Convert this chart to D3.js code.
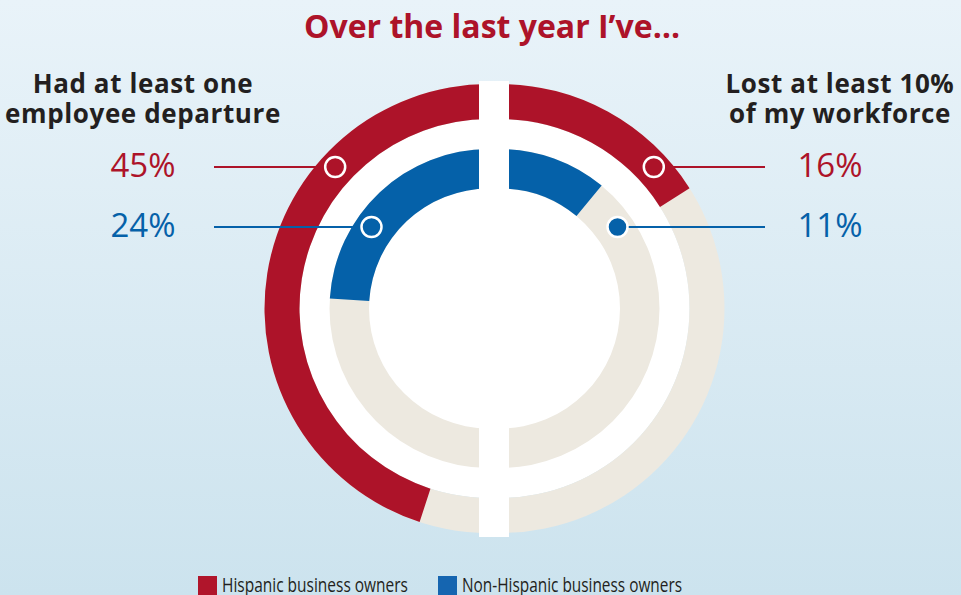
<!DOCTYPE html>
<html>
<head>
<meta charset="utf-8">
<script src="https://d3js.org/d3.v7.min.js"></script>
<style>
  html, body { margin: 0; padding: 0; overflow: hidden; }
  svg { display: block; font-family: "Open Sans", "Noto Sans", sans-serif; }
</style>
</head>
<body>
<script>
// data
const title = "Over the last year I\u2019ve\u2026";
const questions = [["Had at least one", "employee departure"], ["Lost at least 10%", "of my workforce"]];
const seriesNames = ["Hispanic business owners", "Non-Hispanic business owners"];
const hispanic = [45, 16];
const nonHispanic = [24, 11];

const width = 961, height = 595;
const red = "#ad1329", blue = "#0561a9", beige = "#ede9e0", dark = "#231f20";

const svg = d3.select("body").append("svg")
  .attr("width", width)
  .attr("height", height);

// background gradient
const grad = svg.append("defs").append("linearGradient")
  .attr("id", "bg").attr("x1", 0).attr("y1", 0).attr("x2", 0).attr("y2", 1);
grad.append("stop").attr("offset", "0%").attr("stop-color", "#e9f3f9");
grad.append("stop").attr("offset", "100%").attr("stop-color", "#cce3ee");
svg.append("rect").attr("width", width).attr("height", height).attr("fill", "url(#bg)");

// title
svg.append("text")
  .attr("x", 492).attr("y", 38)
  .attr("text-anchor", "middle")
  .style("font-size", "32px")
  .style("font-weight", "bold")
  .style("fill", red)
  .text(title);

const cy = 308.5;
const centers = [489, 500];           // left half, right half
const rings = [
  {inner: 189.5, outer: 224.5, values: hispanic, color: red},
  {inner: 120, outer: 159.5, values: nonHispanic, color: blue}
];
const angle = d3.scaleLinear().domain([0, 100]).range([0, 2 * Math.PI]);
const arc = d3.arc();

centers.forEach((cx, i) => {
  const g = svg.append("g").attr("transform", `translate(${cx},${cy})`);
  const dir = i === 0 ? -1 : 1;
  const span = (a0, a1) => dir < 0 ? {startAngle: -a1, endAngle: -a0} : {startAngle: a0, endAngle: a1};

  // white half disc
  g.append("path")
    .attr("d", arc({innerRadius: 0, outerRadius: rings[0].inner, ...span(0, Math.PI)}))
    .attr("fill", "#fff");

  rings.forEach(r => {
    g.append("path")
      .attr("d", arc({innerRadius: r.inner, outerRadius: r.outer, ...span(0, Math.PI)}))
      .attr("fill", beige);
    g.append("path")
      .attr("d", arc({innerRadius: r.inner, outerRadius: r.outer, ...span(0, angle(r.values[i]))}))
      .attr("fill", r.color);
  });
});

// white gap between the halves
svg.append("rect")
  .attr("x", 479).attr("y", 81)
  .attr("width", 30).attr("height", 456)
  .attr("fill", "#fff");

// question headings
const headX = [143, 840];
questions.forEach((q, i) => {
  q.forEach((line, j) => {
    svg.append("text")
      .attr("x", headX[i]).attr("y", 93 + j * 30)
      .attr("text-anchor", "middle")
      .style("font-size", "26px")
      .style("font-weight", "bold")
      .style("letter-spacing", "0.6px")
      .style("fill", dark)
      .text(line);
  });
});

// value labels, leaders, markers
const labelY = [167, 227];
const labelX = [143, 830];
const lineEnd = [214, 765];
const markerR = [209, 143];
rings.forEach((r, k) => {
  r.values.forEach((v, i) => {
    const cx = centers[i];
    const dir = i === 0 ? -1 : 1;
    const y = labelY[k];
    const mx = cx + dir * Math.sqrt(markerR[k] ** 2 - (y - cy) ** 2);
    svg.append("line")
      .attr("x1", lineEnd[i]).attr("x2", mx)
      .attr("y1", y).attr("y2", y)
      .attr("stroke", r.color).attr("stroke-width", 2);
    svg.append("circle")
      .attr("cx", mx).attr("cy", y).attr("r", 10)
      .attr("fill", r.color)
      .attr("stroke", "#fff").attr("stroke-width", 2.5);
    svg.append("text")
      .attr("x", labelX[i]).attr("y", y + 10)
      .attr("text-anchor", "middle")
      .style("font-size", "33px")
      .style("fill", r.color)
      .text(v + "%");
  });
});

// legend
const legX = [198, 438];
const legW = [186, 220];
seriesNames.forEach((s, i) => {
  svg.append("rect")
    .attr("x", legX[i]).attr("y", 576)
    .attr("width", 19).attr("height", 22)
    .attr("fill", i === 0 ? "#b0152b" : "#1565b0");
  svg.append("text")
    .attr("x", legX[i] + 24).attr("y", 592)
    .attr("textLength", legW[i])
    .attr("lengthAdjust", "spacingAndGlyphs")
    .style("font-size", "20px")
    .style("fill", dark)
    .text(s);
});
</script>
</body>
</html>
